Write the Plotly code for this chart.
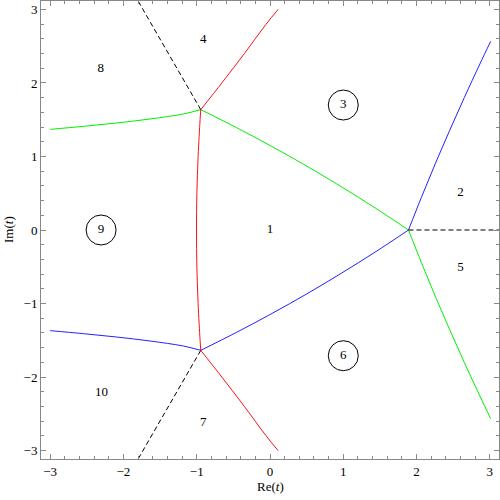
import plotly.graph_objects as go

# green curves
green_left_x = [-3.0, -2.547, -2.09, -1.637, -1.183, -0.945]
green_left_y = [1.369, 1.41, 1.456, 1.51, 1.578, 1.637]
green_mid_x = [-0.945, -0.456, 0.026, 0.502, 0.971, 1.434, 1.89]
green_mid_y = [1.637, 1.392, 1.136, 0.869, 0.590, 0.301, 0.0]
green_down_x = [1.89, 2.066, 2.254, 2.450, 2.653, 2.864, 3.011]
green_down_y = [0.0, -0.444, -0.898, -1.351, -1.804, -2.258, -2.566]

# blue curves
blue_left_x = [-3.0, -2.547, -2.09, -1.637, -1.183, -0.945]
blue_left_y = [-1.369, -1.41, -1.456, -1.51, -1.578, -1.637]
blue_mid_x = [-0.945, -0.456, 0.026, 0.502, 0.971, 1.434, 1.89]
blue_mid_y = [-1.637, -1.392, -1.136, -0.869, -0.590, -0.301, 0.0]
blue_up_x = [1.89, 2.066, 2.254, 2.450, 2.653, 2.864, 3.011]
blue_up_y = [0.0, 0.444, 0.898, 1.351, 1.804, 2.258, 2.566]

# red curves
red_up_x = [-0.945, -0.649, -0.349, -0.055, 0.11]
red_up_y = [1.637, 2.011, 2.401, 2.797, 3.0]
red_mid_x = [-0.945, -0.954, -0.981, -0.998, -1.003, -0.998, -0.981, -0.954, -0.945]
red_mid_y = [1.637, 1.5, 1.0, 0.5, 0.0, -0.5, -1.0, -1.5, -1.637]
red_down_x = [-0.945, -0.649, -0.349, -0.055, 0.11]
red_down_y = [-1.637, -2.011, -2.401, -2.797, -3.0]

# dashed rays
ray_x = [[-0.945, -1.82], [-0.945, -1.82], [1.89, 3.2]]
ray_y = [[1.637, 3.15], [-1.637, -3.15], [0.0, 0.0]]

# region labels
label_text = ["1", "2", "3", "4", "5", "6", "7", "8", "9", "10"]
label_x = [0.0, 2.60, 1.0, -0.91, 2.60, 1.0, -0.91, -2.31, -2.305, -2.30]
label_y = [0.0, 0.50, 1.70, 2.585, -0.51, -1.71, -2.617, 2.19, 0.0, -2.21]
circled = ["3", "6", "9"]

SERIF = "Liberation Serif"
FRAME = "#888888"

fig = go.Figure()

for xs, ys, col in [
    (green_left_x, green_left_y, "#00f000"),
    (green_mid_x, green_mid_y, "#00f000"),
    (green_down_x, green_down_y, "#00f000"),
    (blue_left_x, blue_left_y, "#2222ff"),
    (blue_mid_x, blue_mid_y, "#2222ff"),
    (blue_up_x, blue_up_y, "#2222ff"),
    (red_up_x, red_up_y, "#ff1111"),
    (red_mid_x, red_mid_y, "#ff1111"),
    (red_down_x, red_down_y, "#ff1111"),
]:
    fig.add_trace(go.Scatter(x=xs, y=ys, mode="lines",
                             line=dict(color=col, width=1, shape="spline")))

for xs, ys in zip(ray_x, ray_y):
    fig.add_trace(go.Scatter(x=xs, y=ys, mode="lines",
                             line=dict(color="black", width=1, dash="5px,3px")))

fig.add_trace(go.Scatter(x=label_x, y=label_y, mode="text", text=label_text,
                         textfont=dict(family=SERIF, size=13, color="black")))

cx = [label_x[label_text.index(t)] for t in circled]
cy = [label_y[label_text.index(t)] for t in circled]
fig.add_trace(go.Scatter(x=cx, y=cy, mode="markers",
                         marker=dict(symbol="circle-open", size=30,
                                     color="black", line=dict(width=1, color="black"))))

axis_common = dict(
    showline=True, linecolor=FRAME, linewidth=1, mirror="ticks",
    ticks="inside", ticklen=5, tickcolor=FRAME, tickwidth=1,
    dtick=1, tick0=0, showgrid=False, zeroline=False, automargin=False,
    minor=dict(dtick=0.2, ticks="inside", ticklen=3, tickcolor=FRAME, showgrid=False),
    tickfont=dict(family=SERIF, size=13, color="black"),
)

fig.update_xaxes(range=[-3.125, 3.125], **axis_common)
fig.update_yaxes(range=[-3.115, 3.115], **axis_common)

# axis titles placed as annotations
fig.add_annotation(text="Re(<i>t</i>)", xref="paper", yref="paper", x=0.5, y=-0.059,
                   xanchor="center", yanchor="middle", showarrow=False,
                   font=dict(family=SERIF, size=13, color="black"))
fig.add_annotation(text="Im(<i>t</i>)", xref="paper", yref="paper", x=-0.072, y=0.5,
                   xanchor="center", yanchor="middle", showarrow=False, textangle=-90,
                   font=dict(family=SERIF, size=13, color="black"))

fig.update_layout(
    width=500, height=500,
    margin=dict(l=41, r=1, t=1, b=41),
    plot_bgcolor="white", paper_bgcolor="white",
    showlegend=False,
)

# drop the default page margin so the figure sits at the window's corner
fig.write_html("out.html", config={"displayModeBar": False},
               post_script="document.body.style.margin='0';")
